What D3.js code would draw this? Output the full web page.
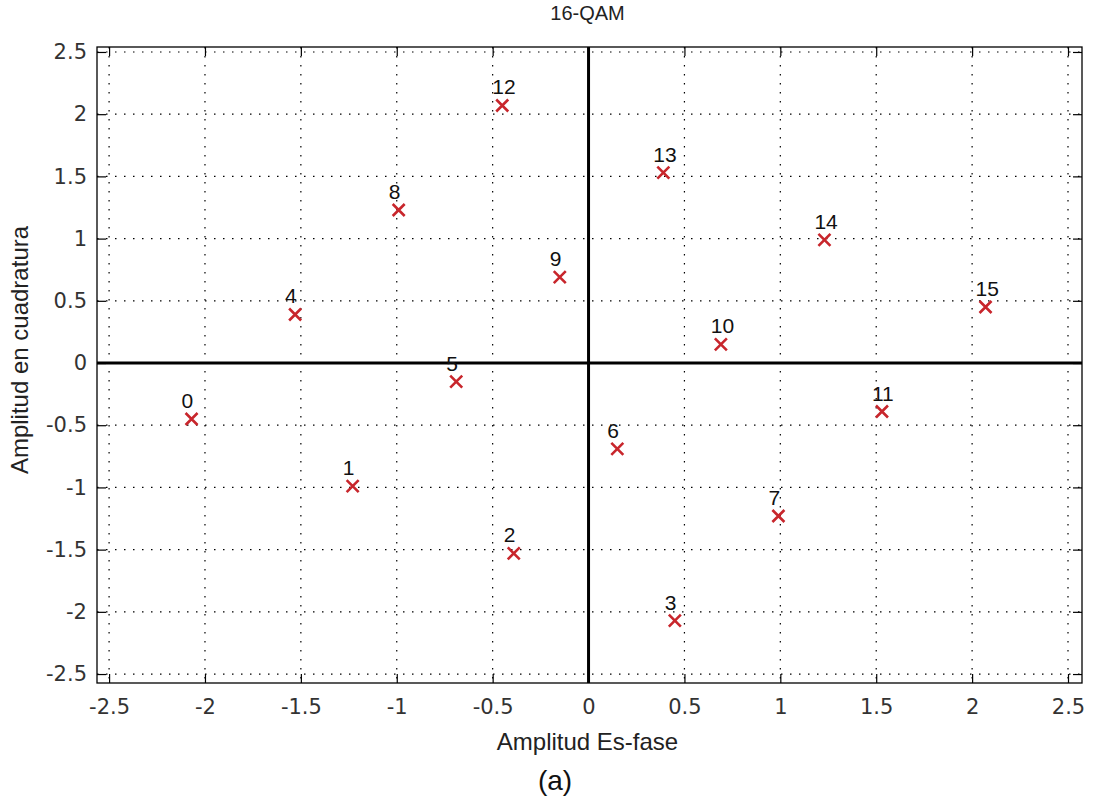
<!DOCTYPE html>
<html><head><meta charset="utf-8">
<script src="https://cdn.jsdelivr.net/npm/d3@7"></script>
<style>body{margin:0;background:#fff}</style>
</head><body>
<script>
const labels = ["0","1","2","3","4","5","6","7","8","9","10","11","12","13","14","15"];
const inPhase = [-2.07,-1.23,-0.39,0.45,-1.53,-0.69,0.15,0.99,-0.99,-0.15,0.69,1.53,-0.45,0.39,1.23,2.07];
const quadrature = [-0.45,-0.99,-1.53,-2.07,0.39,-0.15,-0.69,-1.23,1.23,0.69,0.15,-0.39,2.07,1.53,0.99,0.45];
const tickValues = [-2.5,-2,-1.5,-1,-0.5,0,0.5,1,1.5,2,2.5];
const tickLabels = ["-2.5","-2","-1.5","-1","-0.5","0","0.5","1","1.5","2","2.5"];
const title = "16-QAM", xTitle = "Amplitud Es-fase", yTitle = "Amplitud en cuadratura", caption = "(a)";

const W = 1096, H = 800;
const L = 97, R = 1082, T = 47, B = 683;
const svg = d3.select("body").append("svg").attr("width", W).attr("height", H);
const x = d3.scaleLinear().domain([-2.563, 2.573]).range([L, R]);
const y = d3.scaleLinear().domain([-2.572, 2.54]).range([B, T]);
const tickFont = "'DejaVu Sans', sans-serif";

// grid
const g = svg.append("g");
g.selectAll(".gx").data(tickValues).join("line")
  .attr("x1", d => x(d)).attr("x2", d => x(d)).attr("y1", T).attr("y2", B)
  .attr("stroke", "#000").attr("stroke-width", 1.2).attr("stroke-dasharray", "1.5,7.5");
g.selectAll(".gy").data(tickValues).join("line")
  .attr("y1", d => y(d)).attr("y2", d => y(d)).attr("x1", L).attr("x2", R)
  .attr("stroke", "#000").attr("stroke-width", 1.2).attr("stroke-dasharray", "1.5,7.5");

// zero axes
svg.append("line").attr("x1", x(0)).attr("x2", x(0)).attr("y1", T).attr("y2", B)
  .attr("stroke", "#000").attr("stroke-width", 3);
svg.append("line").attr("y1", y(0)).attr("y2", y(0)).attr("x1", L).attr("x2", R)
  .attr("stroke", "#000").attr("stroke-width", 3);

// axes with inside ticks
const tickFmt = (d, i) => tickLabels[i];
const ax = svg.append("g").attr("transform", `translate(0,${B})`)
  .call(d3.axisBottom(x).tickValues(tickValues).tickFormat(tickFmt).tickSizeInner(-9).tickSizeOuter(0).tickPadding(16));
const ay = svg.append("g").attr("transform", `translate(${L},0)`)
  .call(d3.axisLeft(y).tickValues(tickValues).tickFormat(tickFmt).tickSizeInner(-9).tickSizeOuter(0).tickPadding(10));
const at = svg.append("g").attr("transform", `translate(0,${T})`)
  .call(d3.axisTop(x).tickValues(tickValues).tickFormat("").tickSizeInner(-9).tickSizeOuter(0));
const ar = svg.append("g").attr("transform", `translate(${R},0)`)
  .call(d3.axisRight(y).tickValues(tickValues).tickFormat("").tickSizeInner(-9).tickSizeOuter(0));
[ax, ay, at, ar].forEach(a => {
  a.select(".domain").remove();
  a.selectAll(".tick line").attr("stroke", "#000").attr("stroke-width", 1.2);
  a.selectAll("text").attr("font-family", tickFont).attr("font-size", 21).attr("fill", "#333");
});
ax.selectAll("text").attr("dy", "0.71em");

// box
svg.append("rect").attr("x", L).attr("y", T).attr("width", R - L).attr("height", B - T)
  .attr("fill", "none").attr("stroke", "#000").attr("stroke-width", 1.3);

// markers
const pts = labels.map((l, i) => ({l, i: inPhase[i], q: quadrature[i]}));
const s = 6;
const mk = svg.append("g").selectAll("g").data(pts).join("g")
  .attr("transform", d => `translate(${x(d.i)},${y(d.q)})`);
mk.append("path").attr("d", `M${-s},${-s}L${s},${s}M${-s},${s}L${s},${-s}`)
  .attr("stroke", "#c8262c").attr("stroke-width", 2.6).attr("fill", "none");
mk.append("text").attr("x", -10).attr("y", -11).text(d => d.l)
  .attr("font-family", "'Liberation Sans', Arial, sans-serif").attr("font-size", 21).attr("fill", "#111");

// titles
svg.append("text").attr("x", (L + R) / 2 - 2).attr("y", 20).attr("text-anchor", "middle")
  .attr("font-family", "'Liberation Sans', Arial, sans-serif").attr("font-size", 20).attr("fill", "#222").text(title);
svg.append("text").attr("x", (L + R) / 2 - 2).attr("y", 750).attr("text-anchor", "middle")
  .attr("font-family", "'Liberation Sans', Arial, sans-serif").attr("font-size", 24).attr("fill", "#222").text(xTitle);
svg.append("text").attr("transform", `translate(28,350) rotate(-90)`).attr("text-anchor", "middle")
  .attr("font-family", "'Liberation Sans', Arial, sans-serif").attr("font-size", 24).attr("fill", "#222").text(yTitle);
svg.append("text").attr("x", 555).attr("y", 790).attr("text-anchor", "middle")
  .attr("font-family", "'Liberation Sans', Arial, sans-serif").attr("font-size", 28).attr("fill", "#111").text(caption);
</script>
</body></html>
